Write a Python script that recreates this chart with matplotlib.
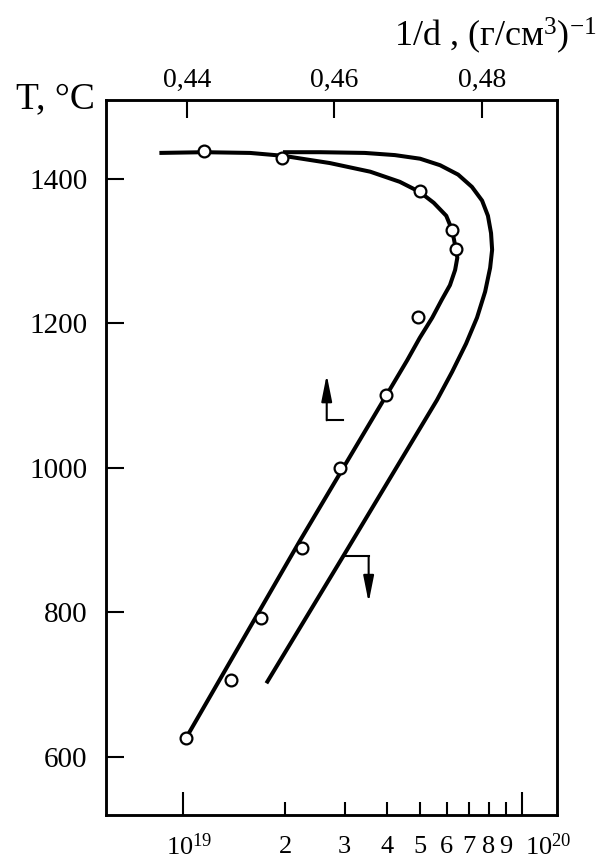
import matplotlib
matplotlib.use("Agg")
import matplotlib.pyplot as plt
import matplotlib.transforms as mtrans
from matplotlib.ticker import NullLocator

plt.rcParams['font.family'] = ['Liberation Serif', 'DejaVu Serif']
plt.rcParams['mathtext.fontset'] = 'custom'
plt.rcParams['mathtext.rm'] = 'Liberation Serif'
plt.rcParams['mathtext.it'] = 'Liberation Serif:italic'
plt.rcParams['mathtext.bf'] = 'Liberation Serif:bold'

# Measured specific volume 1/d (upper axis) vs temperature
inv_d_pts = [0.4424, 0.4529, 0.4716, 0.4760, 0.4765, 0.4714,
             0.4670, 0.4608, 0.4556, 0.4501, 0.4460, 0.4399]
T_pts = [1439, 1429, 1384, 1329, 1303, 1209, 1101, 1000, 889, 792, 706, 626]

# Smooth curve through the 1/d data
inv_d_curve = [0.4399, 0.4554, 0.4699, 0.4716, 0.4733, 0.4746, 0.4757,
               0.4764, 0.4767, 0.4765, 0.4760, 0.4752, 0.4735, 0.4716,
               0.4689, 0.4649, 0.4594, 0.4531, 0.4486, 0.4424, 0.4363]
T_inv_d_curve = [626, 900, 1149, 1180, 1208, 1233, 1253, 1274, 1291, 1303,
                 1329, 1349, 1367, 1382, 1396, 1410, 1422, 1432, 1436, 1437,
                 1436]

# Concentration curve (lower log axis)
conc_curve = [1.76e19, 2.97e19, 5.62e19, 6.23e19, 6.85e19, 7.38e19, 7.80e19,
              8.07e19, 8.18e19, 8.12e19, 7.95e19, 7.64e19, 7.13e19, 6.49e19,
              5.74e19, 5.01e19, 4.22e19, 3.44e19, 2.54e19, 1.97e19]
T_conc_curve = [702, 878, 1094, 1133, 1172, 1208, 1244, 1277, 1302, 1325,
                1349, 1370, 1389, 1406, 1419, 1428, 1433, 1436, 1437, 1437]

y_ticks = [600, 800, 1000, 1200, 1400]
top_ticks = [0.44, 0.46, 0.48]
top_labels = ['0,44', '0,46', '0,48']
bottom_major = [1e19, 1e20]
bottom_major_labels = ['$10^{19}$', '$10^{20}$']
bottom_minor = [2e19, 3e19, 4e19, 5e19, 6e19, 7e19, 8e19, 9e19]
bottom_minor_labels = ['2', '3', '4', '5', '6', '7', '8', '9']

fig = plt.figure(figsize=(6.02, 8.64), dpi=100)
ax = fig.add_axes([0.1756, 0.0567, 0.7497, 0.8276])
ax2 = ax.twiny()

lw_curve = 2.9
tick_w = 1.5

# lower axis: concentration, log scale
ax.set_xscale('log')
ax.set_xlim(10 ** 18.7706, 10 ** 20.1046)
ax.set_ylim(519.7, 1509.3)
ax.plot(conc_curve, T_conc_curve, color='black', lw=lw_curve,
        solid_capstyle='butt', solid_joinstyle='round')

ax.set_xticks(bottom_major, labels=bottom_major_labels)
ax.set_xticks(bottom_minor, labels=bottom_minor_labels, minor=True)
ax.tick_params(axis='x', which='major', direction='in', length=16.5,
               width=tick_w, pad=13, labelsize=19, top=False)
ax.tick_params(axis='x', which='minor', direction='in', length=9.6,
               width=tick_w, pad=15, labelsize=19, top=False)
ax.set_yticks(y_ticks)
ax.yaxis.set_minor_locator(NullLocator())
ax.tick_params(axis='y', direction='in', length=13, width=tick_w, pad=13,
               labelsize=21, right=False)

# nudge the decade labels to the right of their ticks
for lbl, dx in zip(ax.get_xticklabels(), [4, 19]):
    lbl.set_transform(lbl.get_transform() +
                      mtrans.ScaledTranslation(dx / 72, 0,
                                               fig.dpi_scale_trans))

# upper axis: 1/d, linear
ax2.set_xlim(0.42902, 0.49022)
ax2.plot(inv_d_curve, T_inv_d_curve, color='black', lw=lw_curve,
         solid_capstyle='butt', solid_joinstyle='round')
ax2.plot(inv_d_pts, T_pts, linestyle='none', marker='o', markersize=8.5,
         markerfacecolor='white', markeredgecolor='black',
         markeredgewidth=1.6, zorder=5)
ax2.set_xticks(top_ticks, labels=top_labels)
ax2.xaxis.set_minor_locator(NullLocator())
ax2.tick_params(axis='x', direction='in', length=13, width=tick_w, pad=5,
                labelsize=20)

for a in (ax, ax2):
    for s in a.spines.values():
        s.set_linewidth(1.8)

# arrow pointing to the upper axis
arrow_kw = dict(arrowstyle='-|>,head_length=0.8,head_width=0.16',
                color='black', lw=1.5, mutation_scale=20,
                shrinkA=0, shrinkB=0)
ax2.plot([0.45899, 0.46116], [1066, 1066], color='black', lw=1.5)
ax2.annotate('', xy=(0.45899, 1129), xytext=(0.45899, 1066),
             arrowprops=arrow_kw)

# arrow pointing to the lower axis
ax.plot([2.97e19, 3.53e19], [878, 878], color='black', lw=1.5)
ax.annotate('', xy=(3.53e19, 814), xytext=(3.53e19, 878),
            arrowprops=arrow_kw)

fig.text(95 / 602, 1 - 99 / 864, 'T, °C', ha='right', va='center',
         fontsize=27)
fig.text(597 / 602, 1 - 36 / 864, '1/d , (г/см$^3$)$^{-1}$', ha='right',
         va='center', fontsize=26)

fig.savefig('out.png', dpi=100)
